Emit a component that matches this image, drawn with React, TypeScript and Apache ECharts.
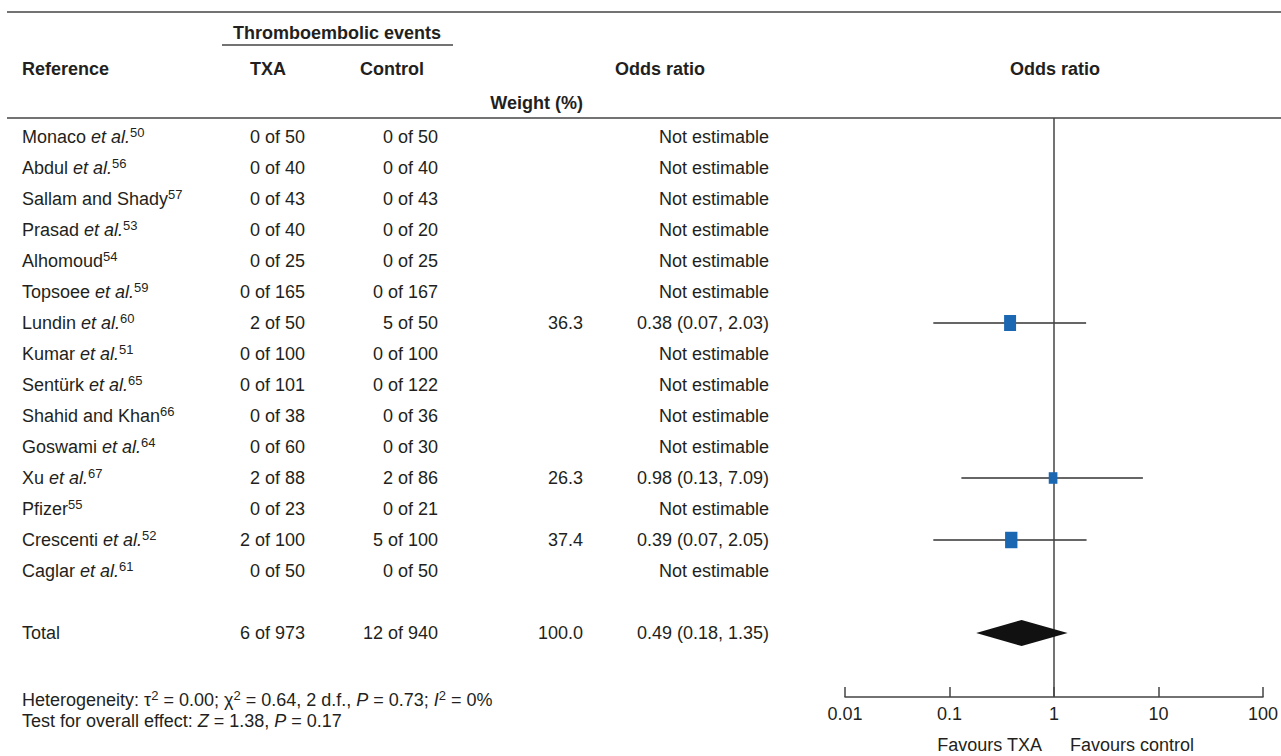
import React, { useEffect, useRef } from "react";
import * as echarts from "echarts";

// ---------- data ----------
const studyNames = ["Monaco", "Abdul", "Sallam and Shady", "Prasad", "Alhomoud", "Topsoee", "Lundin", "Kumar", "Sentürk", "Shahid and Khan", "Goswami", "Xu", "Pfizer", "Crescenti", "Caglar"];
const hasEtAl = [true, true, false, true, false, true, true, true, true, false, true, true, false, true, true];
const refNumbers = ["50", "56", "57", "53", "54", "59", "60", "51", "65", "66", "64", "67", "55", "52", "61"];
const txaEvents = [0, 0, 0, 0, 0, 0, 2, 0, 0, 0, 0, 2, 0, 2, 0];
const txaTotals = [50, 40, 43, 40, 25, 165, 50, 100, 101, 38, 60, 88, 23, 100, 50];
const controlEvents = [0, 0, 0, 0, 0, 0, 5, 0, 0, 0, 0, 2, 0, 5, 0];
const controlTotals = [50, 40, 43, 20, 25, 167, 50, 100, 122, 36, 30, 86, 21, 100, 50];
const weights: (number | null)[] = [null, null, null, null, null, null, 36.3, null, null, null, null, 26.3, null, 37.4, null];
const oddsRatios: (number | null)[] = [null, null, null, null, null, null, 0.38, null, null, null, null, 0.98, null, 0.39, null];
const ciLower: (number | null)[] = [null, null, null, null, null, null, 0.07, null, null, null, null, 0.13, null, 0.07, null];
const ciUpper: (number | null)[] = [null, null, null, null, null, null, 2.03, null, null, null, null, 7.09, null, 2.05, null];
const totalCounts = [6, 973, 12, 940];
const totalWeight = 100.0;
const totalEstimate = [0.49, 0.18, 1.35];
const tickLabels = ["0.01", "0.1", "1", "10", "100"];
const TOTAL_ROW = 16;

const INK = "#231f20";
const RULE = "#444444";
const BLUE = "#1b67b2";
const FONT = '"Liberation Sans", Arial, Helvetica, sans-serif';

const nameRich = {
  i: { fontStyle: "italic", fontSize: 18, fontFamily: FONT, fill: INK, color: INK, lineHeight: 22 },
  n: { fontSize: 18, fontFamily: FONT, color: INK, lineHeight: 22 },
  s: { fontSize: 13, fontFamily: FONT, color: INK, lineHeight: 13, verticalAlign: "top" },
};

function fmtOR(o: number, l: number, h: number) {
  return `${o.toFixed(2)} (${l.toFixed(2)}, ${h.toFixed(2)})`;
}

const tableRows = studyNames.map((n, i) => ({
  row: i,
  name: hasEtAl[i] ? `{n|${n} }{i|et al.}{s|${refNumbers[i]}}` : `{n|${n}}{s|${refNumbers[i]}}`,
  txa: `${txaEvents[i]} of ${txaTotals[i]}`,
  ctrl: `${controlEvents[i]} of ${controlTotals[i]}`,
  weight: weights[i] == null ? "" : (weights[i] as number).toFixed(1),
  or: oddsRatios[i] == null ? "Not estimable" : fmtOR(oddsRatios[i] as number, ciLower[i] as number, ciUpper[i] as number),
}));
tableRows.push({
  row: TOTAL_ROW,
  name: "{n|Total}",
  txa: `${totalCounts[0]} of ${totalCounts[1]}`,
  ctrl: `${totalCounts[2]} of ${totalCounts[3]}`,
  weight: totalWeight.toFixed(1),
  or: fmtOR(totalEstimate[0], totalEstimate[1], totalEstimate[2]),
});

const ciData: number[][] = [];
const squareData: number[][] = [];
studyNames.forEach((_, i) => {
  if (oddsRatios[i] != null) {
    ciData.push([ciLower[i] as number, ciUpper[i] as number, i]);
    squareData.push([oddsRatios[i] as number, i, weights[i] as number]);
  }
});

export default function App() {
  const ref = useRef<HTMLDivElement>(null);
  useEffect(() => {
    if (!ref.current) return;
    const chart = echarts.init(ref.current, undefined, { renderer: "svg" });

    const txt = (x: number, y: number, text: string, align: string, extra: any = {}) => ({
      type: "text",
      x,
      y,
      silent: true,
      style: { text, fill: INK, fontSize: 18, fontFamily: FONT, align, verticalAlign: "middle", ...extra },
    });
    const hline = (x1: number, x2: number, y: number, w = 1.5) => ({
      type: "line",
      silent: true,
      shape: { x1, y1: y, x2, y2: y },
      style: { stroke: RULE, lineWidth: w },
    });
    const footRich = {
      n: { fontSize: 18, fontFamily: FONT, fill: INK, lineHeight: 22 },
      i: { fontSize: 18, fontFamily: FONT, fontStyle: "italic", fill: INK, lineHeight: 22 },
      s: { fontSize: 13, fontFamily: FONT, fill: INK, lineHeight: 13, verticalAlign: "top" },
    };

    const option: any = {
      animation: false,
      backgroundColor: "#ffffff",
      grid: { left: 845, top: 118, width: 419, height: 579, containLabel: false },
      xAxis: {
        type: "log",
        logBase: 10,
        min: 0.01,
        max: 100,
        splitNumber: 4,
        axisLine: { onZero: false, lineStyle: { color: RULE, width: 1.5 } },
        axisTick: { inside: true, length: 10, lineStyle: { color: RULE, width: 1.5 } },
        axisLabel: {
          fontSize: 18,
          fontFamily: FONT,
          color: INK,
          margin: 8,
          formatter: (v: number) => tickLabels[Math.round(Math.log10(v)) + 2] ?? "",
        },
        splitLine: { show: false },
        minorTick: { show: false },
      },
      yAxis: { type: "value", inverse: true, min: -19 / 31, max: 560 / 31, show: false },
      graphic: [
        hline(7, 1281, 12),
        hline(7, 1281, 118),
        hline(222, 453, 45),
        txt(337, 33, "Thromboembolic events", "center", { fontWeight: "bold" }),
        txt(22, 69, "Reference", "left", { fontWeight: "bold" }),
        txt(268, 69, "TXA", "center", { fontWeight: "bold" }),
        txt(392, 69, "Control", "center", { fontWeight: "bold" }),
        txt(660, 69, "Odds ratio", "center", { fontWeight: "bold" }),
        txt(1055, 69, "Odds ratio", "center", { fontWeight: "bold" }),
        txt(583, 103, "Weight (%)", "right", { fontWeight: "bold" }),
        txt(22, 700, "{n|Heterogeneity: τ}{s|2}{n| = 0.00; χ}{s|2}{n| = 0.64, 2 d.f., }{i|P}{n| = 0.73; }{i|I}{s|2}{n| = 0%}", "left", { rich: footRich }),
        txt(22, 721, "{n|Test for overall effect: }{i|Z}{n| = 1.38, }{i|P}{n| = 0.17}", "left", { rich: footRich }),
        txt(1042, 745, "Favours TXA", "right"),
        txt(1070, 745, "Favours control", "left"),
      ],
      series: [
        {
          type: "custom",
          name: "table",
          silent: true,
          clip: false,
          data: tableRows.map((r) => [1, r.row]),
          renderItem: (params: any, api: any) => {
            const r = tableRows[params.dataIndex];
            const y = api.coord([1, api.value(1)])[1];
            const mk = (x: number, text: string, align: string, rich?: any) => ({
              type: "text",
              x,
              y,
              silent: true,
              style: { text, fill: INK, fontSize: 18, fontFamily: FONT, align, verticalAlign: "middle", rich },
            });
            return {
              type: "group",
              children: [
                mk(22, r.name, "left", nameRich),
                mk(305, r.txa, "right"),
                mk(438, r.ctrl, "right"),
                mk(583, r.weight, "right"),
                mk(769, r.or, "right"),
              ],
            };
          },
        },
        {
          type: "custom",
          name: "ci",
          silent: true,
          data: ciData,
          renderItem: (params: any, api: any) => {
            const a = api.coord([api.value(0), api.value(2)]);
            const b = api.coord([api.value(1), api.value(2)]);
            return {
              type: "line",
              shape: { x1: a[0], y1: a[1], x2: b[0], y2: b[1] },
              style: { stroke: "#333333", lineWidth: 1.3 },
            };
          },
          markLine: {
            silent: true,
            symbol: "none",
            label: { show: false },
            lineStyle: { color: RULE, width: 1.5, type: "solid" },
            data: [{ xAxis: 1 }],
          },
        },
        {
          type: "scatter",
          name: "or",
          silent: true,
          symbol: "rect",
          symbolSize: (v: number[]) => [v[2] * 0.33, v[2] * 0.44],
          itemStyle: { color: BLUE, opacity: 1 },
          data: squareData,
          z: 5,
        },
        {
          type: "custom",
          name: "diamond",
          silent: true,
          data: [[totalEstimate[0], totalEstimate[1], totalEstimate[2], TOTAL_ROW]],
          renderItem: (params: any, api: any) => {
            const c = api.coord([api.value(0), api.value(3)]);
            const l = api.coord([api.value(1), api.value(3)]);
            const r = api.coord([api.value(2), api.value(3)]);
            return {
              type: "polygon",
              shape: { points: [[l[0], c[1]], [c[0], c[1] - 13], [r[0], c[1]], [c[0], c[1] + 13]] },
              style: { fill: "#111111" },
            };
          },
          z: 6,
        },
      ],
    };
    chart.setOption(option);
    return () => chart.dispose();
  }, []);
  return <div ref={ref} style={{ position: "fixed", left: 0, top: 0, width: 1281, height: 756, background: "#fff" }} />;
}
